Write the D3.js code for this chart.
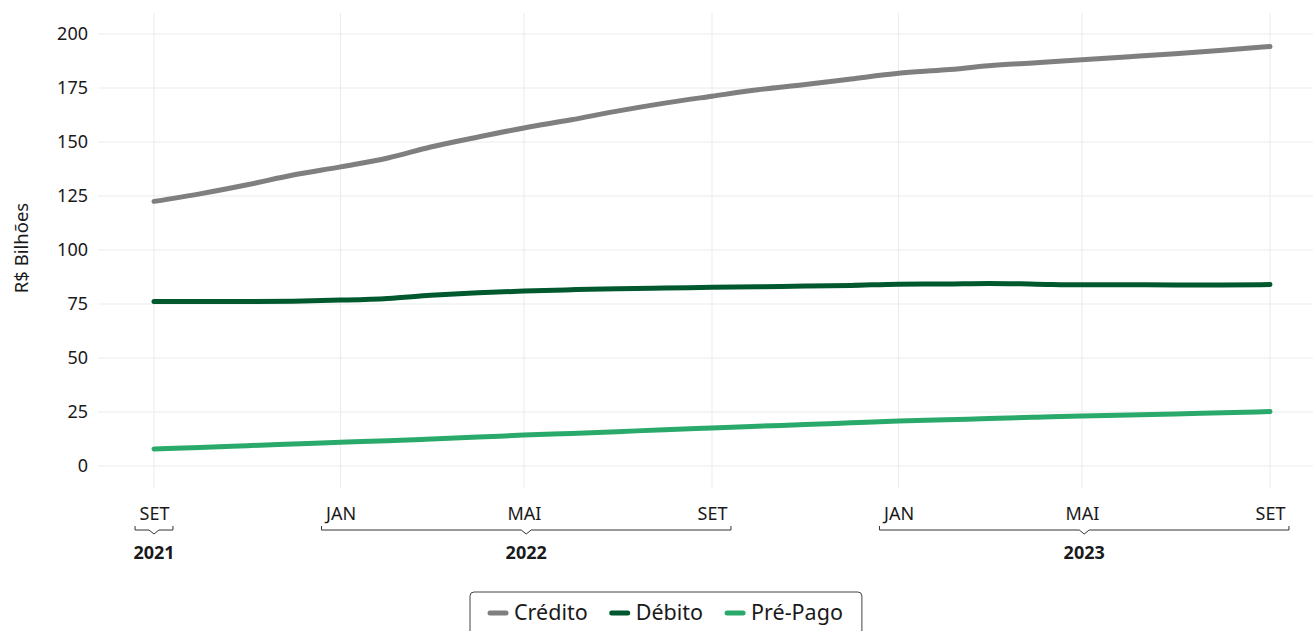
<!DOCTYPE html>
<html>
<head>
<meta charset="utf-8">
<script src="https://cdn.jsdelivr.net/npm/d3@7"></script>
<style>
  body { margin: 0; background: #fff; }
  svg { display: block; font-family: "Noto Sans", sans-serif; }
</style>
</head>
<body>
<div id="chart"></div>
<script>
// monthly data, SET 2021 .. SET 2023
const months = [
  '2021-09', '2021-10', '2021-11', '2021-12',
  '2022-01', '2022-02', '2022-03', '2022-04', '2022-05', '2022-06',
  '2022-07', '2022-08', '2022-09', '2022-10', '2022-11', '2022-12',
  '2023-01', '2023-02', '2023-03', '2023-04', '2023-05', '2023-06',
  '2023-07', '2023-08', '2023-09',
];
const credito = [
  122.5, 126, 130.2, 134.7, 138.5, 142.6, 147.7, 152.3, 156.5, 160.3,
  164.3, 168, 171.2, 174.2, 176.6, 179.2, 181.8, 183.4, 185.3, 186.7,
  188.1, 189.5, 190.9, 192.5, 194.2,
];
const debito = [
  76.1, 76.1, 76.1, 76.3, 76.8, 77.6, 79, 80.2, 81, 81.6,
  82.1, 82.4, 82.7, 83, 83.3, 83.6, 84.2, 84.3, 84.5, 84.2,
  83.9, 83.9, 83.8, 83.8, 84,
];
const prePago = [
  7.9, 8.6, 9.4, 10.2, 11, 11.7, 12.5, 13.4, 14.3, 15.1,
  15.9, 16.8, 17.6, 18.4, 19.2, 20, 20.8, 21.4, 22, 22.6,
  23.1, 23.6, 24.1, 24.6, 25.2,
];
const seriesNames = ['Crédito', 'Débito', 'Pré-Pago'];
const seriesColors = ['#7f7f7f', '#00592e', '#2aaa6a'];
const yTicks = [0, 25, 50, 75, 100, 125, 150, 175, 200];
const xTicks = ['2021-09', '2022-01', '2022-05', '2022-09', '2023-01', '2023-05', '2023-09'];
const monthNames = ['JAN', 'FEV', 'MAR', 'ABR', 'MAI', 'JUN', 'JUL', 'AGO', 'SET', 'OUT', 'NOV', 'DEZ'];
const yearGroups = [
  { year: '2021', ticks: ['2021-09'] },
  { year: '2022', ticks: ['2022-01', '2022-05', '2022-09'] },
  { year: '2023', ticks: ['2023-01', '2023-05', '2023-09'] },
];

const W = 1313;
const H = 631;
const parse = d3.timeParse('%Y-%m');

const svg = d3.select('#chart')
  .append('svg')
  .attr('width', W)
  .attr('height', H);

const x = d3.scaleTime()
  .domain([parse(months[0]), parse(months[months.length - 1])])
  .range([154, 1270]);

const y = d3.scaleLinear()
  .domain([0, 200])
  .range([466, 34]);

// horizontal grid
svg.append('g')
  .selectAll('line')
  .data(yTicks)
  .join('line')
  .attr('x1', 98)
  .attr('x2', W)
  .attr('y1', d => y(d))
  .attr('y2', d => y(d))
  .attr('stroke', '#ebebeb')
  .attr('stroke-width', 1);

// vertical grid
svg.append('g')
  .selectAll('line')
  .data(xTicks)
  .join('line')
  .attr('x1', d => x(parse(d)))
  .attr('x2', d => x(parse(d)))
  .attr('y1', 13)
  .attr('y2', 488)
  .attr('stroke', '#ebebeb')
  .attr('stroke-width', 1);

// y axis
const yAxis = svg.append('g')
  .attr('transform', 'translate(96,0)')
  .call(d3.axisLeft(y).tickValues(yTicks).tickSize(0).tickPadding(8));
yAxis.select('.domain').remove();
yAxis.selectAll('text')
  .attr('font-size', 18)
  .attr('font-family', '"Noto Sans", sans-serif')
  .attr('fill', '#1a1a1a');

svg.append('text')
  .attr('transform', `translate(28,${(y(0) + y(200)) / 2 - 2}) rotate(-90)`)
  .attr('text-anchor', 'middle')
  .attr('font-size', 18.5)
  .attr('fill', '#1a1a1a')
  .text('R$ Bilhões');

// x axis month labels
const xAxis = svg.append('g')
  .attr('transform', 'translate(0,507)')
  .call(d3.axisBottom(x)
    .tickValues(xTicks.map(parse))
    .tickFormat(d => monthNames[d.getMonth()])
    .tickSize(0)
    .tickPadding(0));
xAxis.select('.domain').remove();
xAxis.selectAll('text')
  .attr('font-size', 18)
  .attr('font-family', '"Noto Sans", sans-serif')
  .attr('fill', '#1a1a1a');

const labelWidth = {};
xAxis.selectAll('.tick text').each(function (d) {
  labelWidth[d3.timeFormat('%Y-%m')(d)] = this.getComputedTextLength();
});

// year brackets
const bracketY = 530;
yearGroups.forEach(g => {
  const first = g.ticks[0];
  const last = g.ticks[g.ticks.length - 1];
  const x0 = x(parse(first)) - labelWidth[first] / 2 - 4;
  const x1 = x(parse(last)) + labelWidth[last] / 2 + 4;
  const xm = (x0 + x1) / 2;
  const path = d3.path();
  path.moveTo(x0, bracketY - 4);
  path.lineTo(x0, bracketY);
  path.lineTo(xm - 5, bracketY);
  path.lineTo(xm, bracketY + 4);
  path.lineTo(xm + 5, bracketY);
  path.lineTo(x1, bracketY);
  path.lineTo(x1, bracketY - 4);
  svg.append('path')
    .attr('d', path.toString())
    .attr('fill', 'none')
    .attr('stroke', '#333')
    .attr('stroke-width', 1);
  svg.append('text')
    .attr('x', xm)
    .attr('y', 559)
    .attr('text-anchor', 'middle')
    .attr('font-size', 18)
    .attr('font-weight', 'bold')
    .attr('fill', '#1a1a1a')
    .text(g.year);
});

// lines
const line = d3.line()
  .x((d, i) => x(parse(months[i])))
  .y(d => y(d))
  .curve(d3.curveMonotoneX);

[credito, debito, prePago].forEach((vals, i) => {
  svg.append('path')
    .datum(vals)
    .attr('d', line)
    .attr('fill', 'none')
    .attr('stroke', seriesColors[i])
    .attr('stroke-width', 5)
    .attr('stroke-linecap', 'round')
    .attr('stroke-linejoin', 'round');
});

// legend
const legend = svg.append('g');
const box = legend.append('rect')
  .attr('x', 470)
  .attr('y', 592)
  .attr('height', 60)
  .attr('rx', 4)
  .attr('fill', '#fff')
  .attr('stroke', '#444')
  .attr('stroke-width', 1);

let lx = 488;
seriesNames.forEach((name, i) => {
  legend.append('line')
    .attr('x1', lx + 2)
    .attr('x2', lx + 18)
    .attr('y1', 613)
    .attr('y2', 613)
    .attr('stroke', seriesColors[i])
    .attr('stroke-width', 5)
    .attr('stroke-linecap', 'round');
  const t = legend.append('text')
    .attr('x', lx + 26)
    .attr('y', 620)
    .attr('font-size', 21.5)
    .attr('fill', '#1a1a1a')
    .text(name);
  lx += 26 + t.node().getComputedTextLength() + 22;
});
box.attr('width', lx - 22 + 19 - 470);
</script>
</body>
</html>
